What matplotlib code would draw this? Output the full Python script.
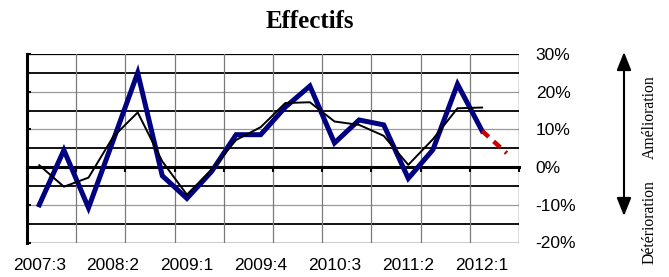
import matplotlib
matplotlib.use("Agg")
import matplotlib.pyplot as plt
import matplotlib.transforms as mtransforms

arquivo_saida = "out.png"

trimestres = ["2007:3", "2007:4", "2008:1", "2008:2", "2008:3", "2008:4",
              "2009:1", "2009:2", "2009:3", "2009:4", "2010:1", "2010:2",
              "2010:3", "2010:4", "2011:1", "2011:2", "2011:3", "2011:4",
              "2012:1", "2012:2"]

# solde trimestriel (bleu) et moyenne lissée (noir), en %
effectifs = [-10, 4.5, -10.8, 7, 25, -2.3, -8.3, -1.2, 8.6, 8.6,
             15.9, 21.5, 6.4, 12.5, 11.2, -3, 4.6, 22, 9.6]
prevision = [9.6, 3.7]
moyenne = [0.5, -5.2, -2.8, 8, 14.5, 1.5, -7.3, -0.7, 7.2, 10.6,
           17, 17.2, 12.1, 11.2, 8.3, 0.6, 7.4, 15.6, 15.8]

niveaux_y = [30, 20, 10, 0, -10, -20]
etiquettes_y = ["30%", "20%", "10%", "0%", "-10%", "-20%"]
pas_etiquettes_x = 3
pas_grille_x = 2

fig = plt.figure(figsize=(6.69, 2.77), dpi=100)
ax = fig.add_axes([27 / 669, 1 - 242.5 / 277, 492 / 669, 188.5 / 277])

n = len(trimestres)
ax.set_xlim(-0.5, n - 0.5)
ax.set_ylim(-20, 30)

# grille horizontale : noire aux 5%, grise aux 10%
for niv in range(-15, 30, 5):
    if niv == 0:
        continue
    if niv % 10 == 0:
        ax.axhline(niv, color="#999999", lw=0.9, zorder=1)
    else:
        ax.axhline(niv, color="black", lw=1.3, zorder=1)
ax.axhline(30, color="black", lw=0.9, zorder=1)
ax.axhline(-20, color="black", lw=1.0, zorder=1)

# grille verticale tous les deux trimestres
for k in range(pas_grille_x, n, pas_grille_x):
    ax.axvline(k - 0.5, color="#7a7a7a", lw=0.9, zorder=1)

x = list(range(len(effectifs)))
ax.plot(x, effectifs, color="#000080", lw=3.6, solid_joinstyle="miter", zorder=3)
x_prev = list(range(len(effectifs) - 1, len(effectifs) - 1 + len(prevision)))
ax.plot(x_prev, prevision, color="#cc0000", lw=3.2, dashes=(2.0, 1.5), zorder=4)
ax.plot(list(range(len(moyenne))), moyenne, color="black", lw=1.4, zorder=5)

# axes
for s in ["top", "right"]:
    ax.spines[s].set_visible(False)
ax.axvline(n - 0.5, color="black", lw=0.9, zorder=2)
ax.spines["left"].set_linewidth(2.2)
ax.spines["bottom"].set_position(("data", 0))
ax.spines["bottom"].set_linewidth(2.2)
ax.spines["bottom"].set_zorder(2)

ax.set_xticks([k - 0.5 for k in range(0, n + 1, pas_grille_x)])
ax.set_xticklabels([])
ax.tick_params(axis="x", direction="out", length=3.5, width=1.5)

ax.set_yticks(niveaux_y)
ax.set_yticklabels(etiquettes_y)
ax.tick_params(axis="y", left=True, right=False, labelleft=False, labelright=True,
               direction="in", length=3, width=1.5, pad=12, labelsize=12.5)
for t in ax.get_yticklabels():
    t.set_fontfamily("Liberation Sans")

trans = mtransforms.blended_transform_factory(ax.transData, ax.transAxes)
for i in range(0, n, pas_etiquettes_x):
    ax.text(i, -0.12, trimestres[i], transform=trans, ha="center", va="center",
            fontsize=12.5, family="Liberation Sans")

fig.text(309.5 / 669, 1 - 21.5 / 277, "Effectifs", ha="center", va="center",
         fontsize=18, fontweight="bold", family="Liberation Serif")

# flèche amélioration / détérioration
ax.annotate("", xy=(624, 277 - 52), xytext=(624, 277 - 216),
            xycoords="figure pixels", textcoords="figure pixels",
            arrowprops=dict(arrowstyle="<|-|>,head_length=0.55,head_width=0.22",
                            mutation_scale=20, color="black", lw=1.5,
                            shrinkA=0, shrinkB=0))
fig.text(650 / 669, 1 - 117 / 277, "Amélioration", rotation=90, ha="center",
         va="center", fontsize=11.3, family="Liberation Serif")
fig.text(650 / 669, 1 - 222 / 277, "Détérioration", rotation=90, ha="center",
         va="center", fontsize=11.3, family="Liberation Serif")

fig.savefig(arquivo_saida, dpi=100)
plt.close(fig)
